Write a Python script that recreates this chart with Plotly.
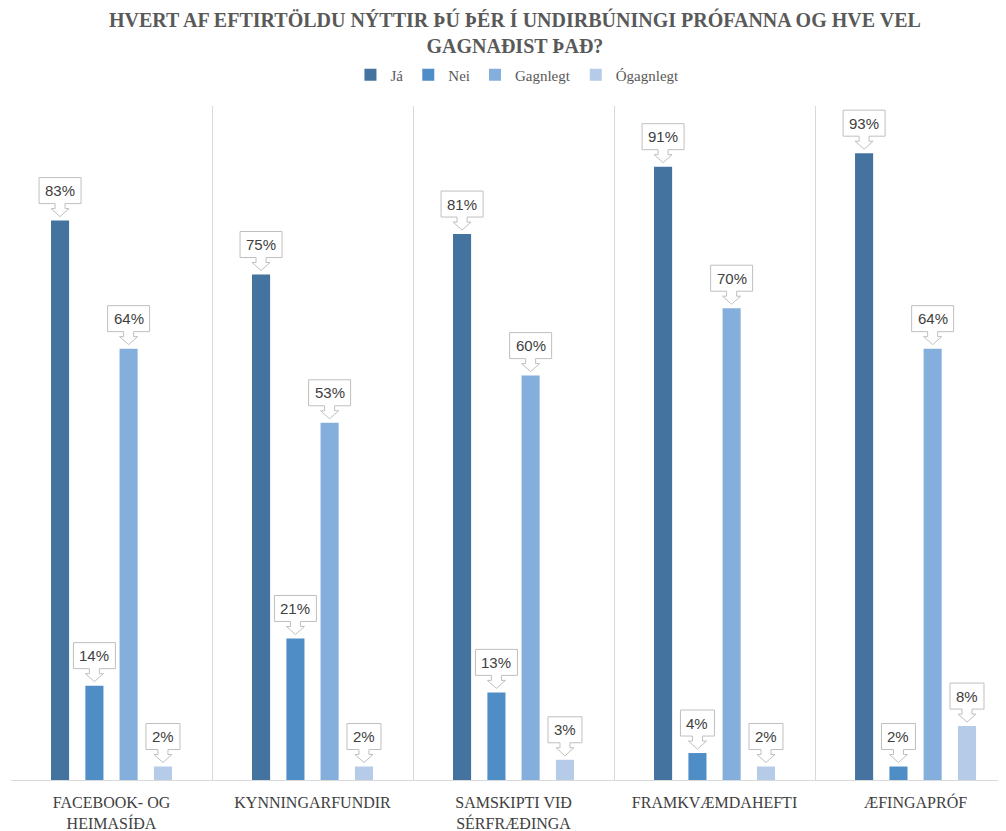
import plotly.graph_objects as go

categories = ["FACEBOOK- OG<br>HEIMASÍÐA", "KYNNINGARFUNDIR", "SAMSKIPTI VIÐ<br>SÉRFRÆÐINGA",
              "FRAMKVÆMDAHEFTI", "ÆFINGAPRÓF"]
series_names = ["Já", "Nei", "Gagnlegt", "Ógagnlegt"]
ja = [83, 75, 81, 91, 93]
nei = [14, 21, 13, 4, 2]
gagnlegt = [64, 53, 60, 70, 64]
ogagnlegt = [2, 2, 3, 2, 8]
colors = ["#44739F", "#4F8DC6", "#84AEDC", "#B5CBE8"]

series = [ja, nei, gagnlegt, ogagnlegt]
offsets = [-0.256, -0.085, 0.085, 0.256]
bar_w = 0.09

fig = go.Figure()
annotations = []
shapes = []
for s, (name, vals, col, off) in enumerate(zip(series_names, series, colors, offsets)):
    xs = [i + off for i in range(len(categories))]
    fig.add_trace(go.Bar(x=xs, y=vals, width=bar_w, name=name, marker=dict(color=col, line=dict(width=0)),
                         hoverinfo="y"))
    for x, v in zip(xs, vals):
        txt = f"{v}%"
        w = 21 if len(txt) >= 3 else 17
        path = (f"M {-w},43 L {w},43 L {w},17 L 5,17 L 5,12 L 9,12 L 0,4 L -9,12 "
                f"L -5,12 L -5,17 L {-w},17 Z")
        shapes.append(dict(type="path", xref="x", yref="y", xsizemode="pixel", ysizemode="pixel",
                           xanchor=x, yanchor=v, path=path, fillcolor="white",
                           line=dict(color="#BFBFBF", width=1), layer="above"))
        annotations.append(dict(x=x, y=v, xref="x", yref="y", text=txt, showarrow=False,
                                yshift=30, yanchor="middle", xanchor="center",
                                font=dict(family="Liberation Sans, Arial", size=15, color="#404040")))

# title as a centered annotation in paper space
annotations.append(dict(
    text="HVERT AF EFTIRTÖLDU NÝTTIR ÞÚ ÞÉR Í UNDIRBÚNINGI PRÓFANNA OG HVE VEL<br>GAGNAÐIST ÞAÐ?",
    xref="paper", yref="paper", x=0.507, y=1.0 + (98 - 24) / 674, xanchor="center", yanchor="middle",
    showarrow=False, align="center",
    font=dict(family="Liberation Serif", size=20, color="#595959", weight="bold")))

# the page body adds an 8px offset, so the figure is 8px smaller than the window
fig.update_layout(
    width=998, height=823,
    margin=dict(l=3, r=0, t=98, b=51, autoexpand=False),
    paper_bgcolor="white", plot_bgcolor="white",
    legend=dict(orientation="h", x=0.509, xanchor="center", y=1.046, yanchor="middle",
                font=dict(family="Liberation Serif", size=15, color="#595959"),
                itemwidth=30, traceorder="normal"),
    barmode="overlay",
    xaxis=dict(range=[-0.5, 4.45], tickmode="array", tickvals=list(range(len(categories))),
               ticktext=categories, showgrid=False, zeroline=False, automargin=False,
               showline=True, linecolor="#D9D9D9", linewidth=1, ticks="",
               ticklabelstandoff=8,
               tickfont=dict(family="Liberation Serif", size=16, color="#404040"),
               minor=dict(tick0=-0.5, dtick=1, showgrid=True, gridcolor="#D9D9D9", gridwidth=1)),
    yaxis=dict(range=[0, 100], showgrid=False, zeroline=False, showticklabels=False, showline=False,
               automargin=False),
    shapes=shapes, annotations=annotations,
    showlegend=True,
)

fig.write_html("out.html")
